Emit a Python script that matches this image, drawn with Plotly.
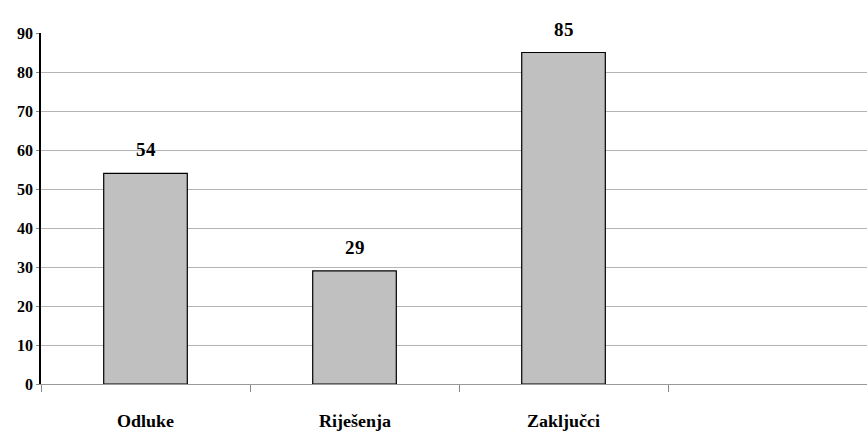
import plotly.graph_objects as go

categories = ["Odluke", "Riješenja", "Zaključci"]
values = [54, 29, 85]
all_slots = categories + [" "]
y_ticks = [0, 10, 20, 30, 40, 50, 60, 70, 80, 90]

FONT = "Liberation Serif, Times New Roman, DejaVu Serif, serif"

fig = go.Figure()
fig.add_trace(go.Bar(
    x=categories, y=values, width=0.4,
    marker=dict(color="#C0C0C0", line=dict(color="#000000", width=1.2)),
    hoverinfo="skip",
))

for c, v in zip(categories, values):
    fig.add_annotation(x=c, y=v, text=f"<b>{v}</b>", showarrow=False,
                       yanchor="bottom", yshift=11,
                       font=dict(family=FONT, size=19, color="black"))

fig.update_layout(
    width=867, height=435,
    margin=dict(l=41, r=0, t=33, b=51),
    paper_bgcolor="white", plot_bgcolor="white",
    showlegend=False,
    font=dict(family=FONT, color="black"),
    bargap=0.6,
)
fig.update_xaxes(
    type="category", categoryorder="array", categoryarray=all_slots,
    range=[-0.5, 3.452],
    tickson="boundaries", ticks="outside", ticklen=7, tickcolor="#888888",
    showgrid=False, showline=True, linecolor="#999999", linewidth=1,
    tickfont=dict(family=FONT, size=18, color="black"),
    ticklabelstandoff=20,
    tickvals=categories, ticktext=[f"<b>{c}</b>" for c in categories],
)
fig.update_yaxes(
    range=[0, 90], tickvals=y_ticks,
    ticktext=[f"<b>{t}</b>" for t in y_ticks],
    showgrid=True, gridcolor="#B4B4B4", gridwidth=1,
    showline=True, linecolor="black", linewidth=1.5,
    ticks="outside", ticklen=3, tickcolor="#888888",
    tickfont=dict(family=FONT, size=16, color="black"),
    zeroline=False,
)

css = (
    "@font-face{font-family:RefSerif;font-weight:700;"
    "src:local('Liberation Serif Bold'),local('LiberationSerif-Bold'),"
    "local('DejaVu Serif Bold'),local('DejaVuSerif-Bold');}"
    "@font-face{font-family:RefSerif;font-weight:400;"
    "src:local('Liberation Serif'),local('LiberationSerif'),"
    "local('DejaVu Serif'),local('DejaVuSerif');}"
    ".modebar-container{display:none !important;}"
    "svg text{font-family:RefSerif,'Liberation Serif','DejaVu Serif',serif !important;}"
)

fig.write_html(
    "out.html",
    config={"displayModeBar": False},
    post_script=(
        "document.body.style.margin='0';"
        "var s=document.createElement('style');"
        "s.textContent=" + repr(css) + ";"
        "document.head.appendChild(s);"
    ),
)
